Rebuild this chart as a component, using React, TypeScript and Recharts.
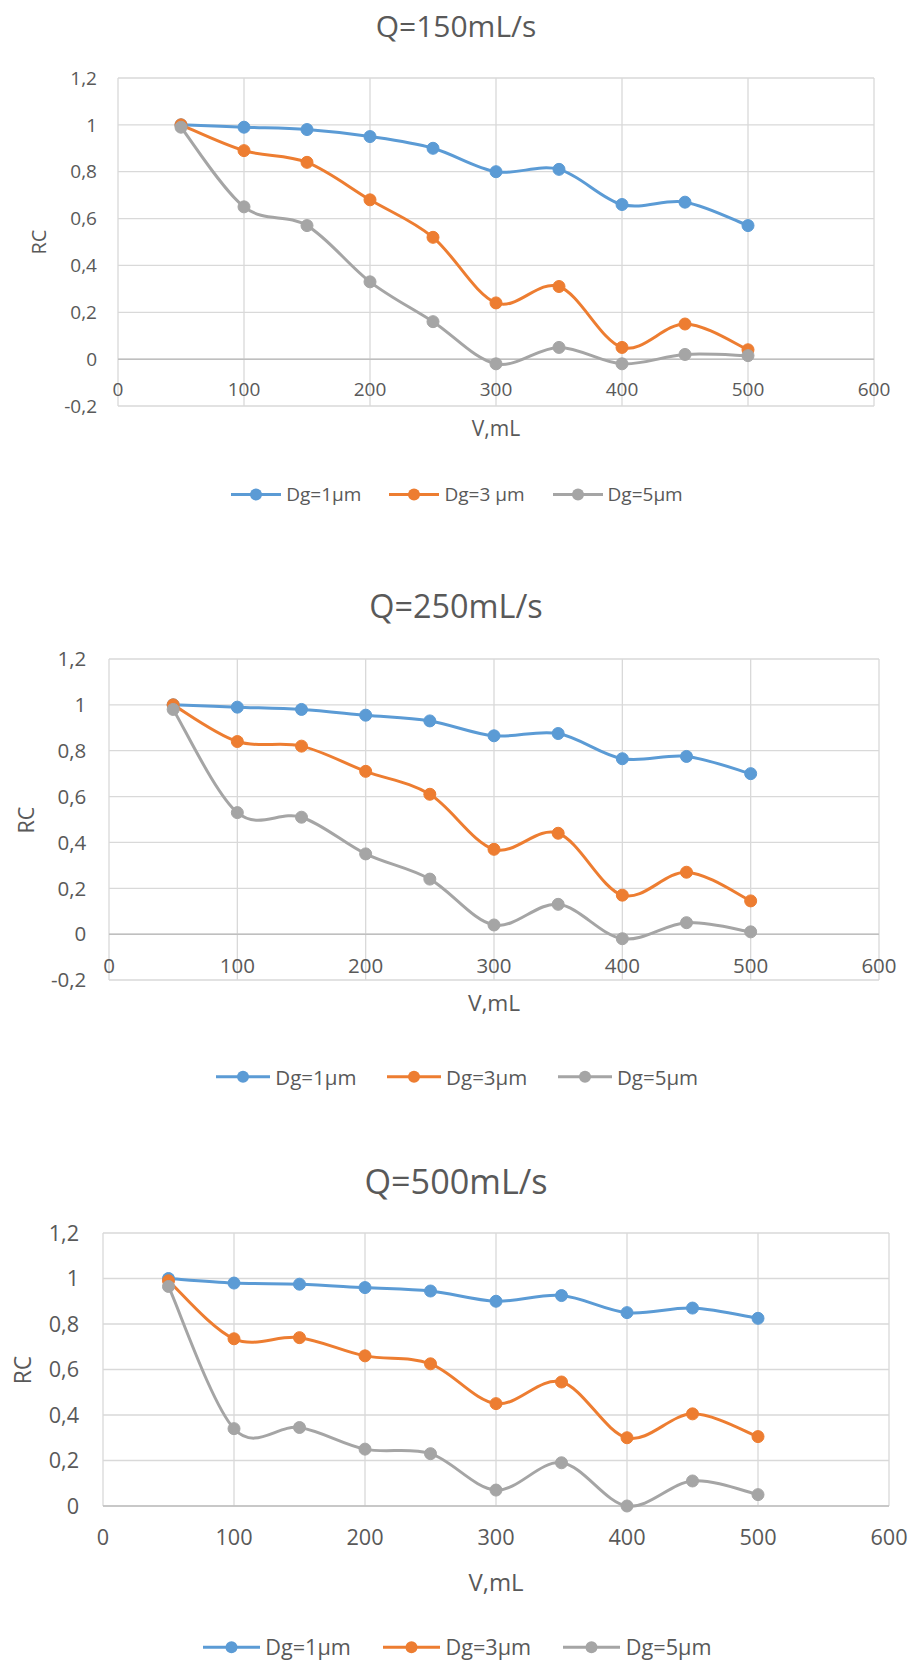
import React from 'react';
import { LineChart, Line, XAxis, YAxis, CartesianGrid, ReferenceLine } from 'recharts';

// sampled volumes (mL)
const volumes = [50, 100, 150, 200, 250, 300, 350, 400, 450, 500];
const xTicks = [0, 100, 200, 300, 400, 500, 600];
const yTicksNeg = [-0.2, 0, 0.2, 0.4, 0.6, 0.8, 1, 1.2];
const yTicksPos = [0, 0.2, 0.4, 0.6, 0.8, 1, 1.2];

const names150 = ['Dg=1μm', 'Dg=3 μm', 'Dg=5μm'];
const namesOther = ['Dg=1μm', 'Dg=3μm', 'Dg=5μm'];
const colors = ['#5B9BD5', '#ED7D31', '#A5A5A5'];

// Q = 150 mL/s
const q150Dg1 = [1, 0.99, 0.98, 0.95, 0.9, 0.8, 0.81, 0.66, 0.67, 0.57];
const q150Dg3 = [1, 0.89, 0.84, 0.68, 0.52, 0.24, 0.31, 0.05, 0.15, 0.04];
const q150Dg5 = [0.99, 0.65, 0.57, 0.33, 0.16, -0.02, 0.05, -0.02, 0.02, 0.015];

// Q = 250 mL/s
const q250Dg1 = [1, 0.99, 0.98, 0.955, 0.93, 0.865, 0.875, 0.765, 0.775, 0.7];
const q250Dg3 = [1, 0.84, 0.82, 0.71, 0.61, 0.37, 0.44, 0.17, 0.27, 0.145];
const q250Dg5 = [0.98, 0.53, 0.51, 0.35, 0.24, 0.04, 0.13, -0.02, 0.05, 0.01];

// Q = 500 mL/s
const q500Dg1 = [1, 0.98, 0.975, 0.96, 0.945, 0.9, 0.925, 0.85, 0.87, 0.825];
const q500Dg3 = [0.99, 0.735, 0.74, 0.66, 0.625, 0.45, 0.545, 0.3, 0.405, 0.305];
const q500Dg5 = [0.965, 0.34, 0.345, 0.25, 0.23, 0.07, 0.19, 0, 0.11, 0.05];

const TEXT = '#595959';
const Y_AXIS_W = 60;
const X_AXIS_H = 30;

// Excel-like smoothed line (cubic bezier, catmull-rom style control points)
const excelSmooth = (context: any) => {
  let pts: number[][] = [];
  return {
    areaStart() {},
    areaEnd() {},
    lineStart() {
      pts = [];
    },
    point(x: number, y: number) {
      pts.push([+x, +y]);
    },
    lineEnd() {
      if (!pts.length) return;
      context.moveTo(pts[0][0], pts[0][1]);
      for (let i = 0; i < pts.length - 1; i++) {
        const p0 = pts[Math.max(i - 1, 0)];
        const p1 = pts[i];
        const p2 = pts[i + 1];
        const p3 = pts[Math.min(i + 2, pts.length - 1)];
        context.bezierCurveTo(
          p1[0] + (p2[0] - p0[0]) / 6,
          p1[1] + (p2[1] - p0[1]) / 6,
          p2[0] - (p3[0] - p1[0]) / 6,
          p2[1] - (p3[1] - p1[1]) / 6,
          p2[0],
          p2[1]
        );
      }
    },
  };
};

// plot box given in page pixels: left/right/top/bottom edges
const charts = [
  {
    title: 'Q=150mL/s', names: names150, values: [q150Dg1, q150Dg3, q150Dg5],
    top: 0, height: 530, plot: { left: 118, right: 874, top: 78, bottom: 406 },
    yMin: -0.2, yTicks: yTicksNeg, scale: 1, xLabelDy: -10,
    titleY: 26, xTitleY: 428, rcX: 39, legendY: 494,
  },
  {
    title: 'Q=250mL/s', names: namesOther, values: [q250Dg1, q250Dg3, q250Dg5],
    top: 560, height: 540, plot: { left: 109, right: 879, top: 659, bottom: 980 },
    yMin: -0.2, yTicks: yTicksNeg, scale: 1.08, xLabelDy: -7.5,
    titleY: 605, xTitleY: 1003, rcX: 26, legendY: 1077,
  },
  {
    title: 'Q=500mL/s', names: namesOther, values: [q500Dg1, q500Dg3, q500Dg5],
    top: 1130, height: 531, plot: { left: 103, right: 889, top: 1233, bottom: 1506 },
    yMin: 0, yTicks: yTicksPos, scale: 1.14, xLabelDy: 39,
    titleY: 1181, xTitleY: 1582, rcX: 23, legendY: 1647,
  },
];

const fmt = (v: number) => String(v).replace('.', ',');

function Centered({ x, y, size, rotate, children }: any) {
  return (
    <div
      style={{
        position: 'absolute', left: x, top: y, fontSize: size, lineHeight: 1, color: TEXT,
        whiteSpace: 'nowrap',
        transform: `translate(-50%, -50%)${rotate ? ' rotate(-90deg)' : ''}`,
      }}
    >
      {children}
    </div>
  );
}

function LegendRow({ names, y, s }: any) {
  const lineW = 50 * s;
  return (
    <div
      style={{
        position: 'absolute', left: 0, width: 914, top: y, transform: 'translateY(-50%)',
        display: 'flex', justifyContent: 'center', alignItems: 'center',
        fontSize: 19 * s, lineHeight: 1, color: TEXT,
      }}
    >
      {names.map((n: string, i: number) => (
        <div key={n} style={{ display: 'flex', alignItems: 'center', marginRight: i < names.length - 1 ? 28 * s : 0 }}>
          <svg width={lineW} height={14}>
            <line x1={0} y1={7} x2={lineW} y2={7} stroke={colors[i]} strokeWidth={3} />
            <circle cx={lineW / 2} cy={7} r={6} fill={colors[i]} />
          </svg>
          <span style={{ marginLeft: 5 * s }}>{n}</span>
        </div>
      ))}
    </div>
  );
}

function RcChart({ cfg }: any) {
  const s = cfg.scale;
  const p = cfg.plot;
  const data = volumes.map((v, i) => ({
    v,
    s0: cfg.values[0][i],
    s1: cfg.values[1][i],
    s2: cfg.values[2][i],
  }));
  const margin = {
    top: p.top - cfg.top,
    left: p.left - Y_AXIS_W,
    right: 914 - p.right,
    bottom: cfg.top + cfg.height - p.bottom - X_AXIS_H,
  };

  return (
    <>
      <Centered x={456} y={cfg.titleY} size={30 * s}>{cfg.title}</Centered>
      <div style={{ position: 'absolute', left: 0, top: cfg.top }}>
        <LineChart width={914} height={cfg.height} data={data} margin={margin}>
          <CartesianGrid stroke="#d9d9d9" strokeWidth={1.3} />
          <XAxis
            dataKey="v"
            type="number"
            domain={[0, 600]}
            ticks={xTicks}
            interval={0}
            height={X_AXIS_H}
            axisLine={false}
            tickLine={false}
            tickSize={0}
            tickMargin={0}
            tick={(t: any) => (
              <text x={t.x} y={t.y + cfg.xLabelDy} textAnchor="middle" fill={TEXT} fontSize={19 * s}>
                {t.payload.value}
              </text>
            )}
          />
          <YAxis
            type="number"
            domain={[cfg.yMin, 1.2]}
            ticks={cfg.yTicks}
            interval={0}
            width={Y_AXIS_W}
            axisLine={false}
            tickLine={false}
            tickSize={0}
            tickMargin={21 * s}
            tickFormatter={fmt}
            tick={{ fill: TEXT, fontSize: 19 * s }}
          />
          <ReferenceLine y={0} stroke="#bfbfbf" strokeWidth={1.5} />
          {[0, 1, 2].map((k) => (
            <Line
              key={k}
              dataKey={`s${k}`}
              name={cfg.names[k]}
              type={excelSmooth as any}
              stroke={colors[k]}
              strokeWidth={3}
              dot={{ r: 6, fill: colors[k], stroke: colors[k], strokeWidth: 1 }}
              activeDot={false}
              isAnimationActive={false}
            />
          ))}
        </LineChart>
      </div>
      <Centered x={(p.left + p.right) / 2} y={cfg.xTitleY} size={21 * s}>V,mL</Centered>
      <Centered x={cfg.rcX} y={(p.top + p.bottom) / 2} size={20 * s} rotate>RC</Centered>
      <LegendRow names={cfg.names} y={cfg.legendY} s={s} />
    </>
  );
}

export default function App() {
  return (
    <div
      style={{
        position: 'absolute', left: 0, top: 0, width: 914, height: 1661, background: '#fff',
        fontFamily: '"Open Sans", sans-serif', overflow: 'hidden',
      }}
    >
      {charts.map((c) => (
        <RcChart key={c.title} cfg={c} />
      ))}
    </div>
  );
}
